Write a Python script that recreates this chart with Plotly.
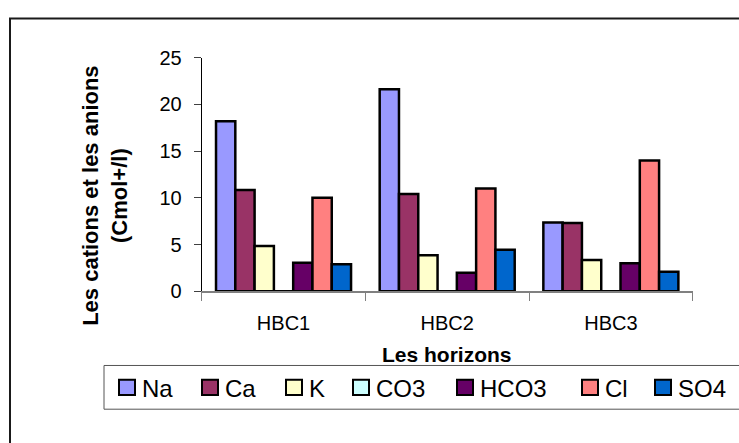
import plotly.graph_objects as go

# --- data -------------------------------------------------------------
horizons = ["HBC1", "HBC2", "HBC3"]
ions = ["Na", "Ca", "K", "CO3", "HCO3", "Cl", "SO4"]
na = [18.2, 21.6, 7.35]
ca = [10.85, 10.4, 7.3]
k = [4.85, 3.85, 3.35]
co3 = [0, 0, 0]
hco3 = [3.05, 2.0, 3.0]
cl = [10.0, 11.0, 14.0]
so4 = [2.9, 4.45, 2.1]
y_ticks = [0, 5, 10, 15, 20, 25]

series = [na, ca, k, co3, hco3, cl, so4]
colors = ["#9999FF", "#993366", "#FFFFCC", "#CCFFFF", "#660066", "#FF8080", "#0066CC"]

# --- layout helpers (pixel -> paper fractions) ------------------------
W, H = 739, 443
FONT = "Liberation Sans, Arial, sans-serif"


def fx(px):
    return px / W


def fy(py):
    return 1 - py / H


plot_left, plot_right, plot_top, plot_bottom = 201.7, 692.7, 49, 295

fig = go.Figure()
for name, vals, col in zip(ions, series, colors):
    fig.add_trace(go.Bar(
        x=horizons, y=vals, name=name, showlegend=False,
        marker=dict(color=col, line=dict(color="black", width=2.5)),
    ))

fig.update_layout(
    width=W, height=H,
    margin=dict(l=0, r=0, t=0, b=0),
    paper_bgcolor="white", plot_bgcolor="white",
    barmode="group", bargap=0.175, bargroupgap=0,
    font=dict(family=FONT, color="black"),
    xaxis=dict(
        domain=[fx(plot_left), fx(plot_right)],
        showline=True, linecolor="#808080", linewidth=1.5,
        ticks="outside", tickson="boundaries", ticklen=8, tickcolor="#808080",
        tickfont=dict(size=20, family=FONT), showgrid=False,
        ticklabelstandoff=13,
    ),
    yaxis=dict(
        domain=[fy(plot_bottom), fy(plot_top)],
        range=[0, 25], tickvals=y_ticks,
        showline=True, linecolor="#000000", linewidth=1,
        ticks="outside", ticklen=7, tickcolor="#404040",
        tickfont=dict(size=20, family=FONT), showgrid=False, zeroline=False,
        ticklabelstandoff=8,
    ),
)

shapes = []
annotations = []

# outer chart frame
shapes.append(dict(type="rect", xref="paper", yref="paper",
                   x0=fx(10), x1=fx(760), y0=fy(8), y1=fy(470),
                   line=dict(color="#1a1a1a", width=2), fillcolor="rgba(0,0,0,0)"))

# axis titles
annotations.append(dict(
    text="<b>Les cations et les anions<br>(Cmol+/l)</b>", textangle=-90,
    xref="paper", yref="paper", x=fx(105.5), y=fy(195),
    xanchor="center", yanchor="middle", showarrow=False,
    font=dict(size=22, family=FONT, color="black"),
))
annotations.append(dict(
    text="<b>Les horizons</b>",
    xref="paper", yref="paper", x=fx(447), y=fy(361),
    xanchor="center", yanchor="middle", showarrow=False,
    font=dict(size=21, family=FONT, color="black"),
))

# legend box with swatches
shapes.append(dict(type="rect", xref="paper", yref="paper",
                   x0=fx(104), x1=fx(760), y0=fy(373), y1=fy(419),
                   line=dict(color="#555555", width=1), fillcolor="white", layer="below"))
legend_x = [119, 202, 286, 353, 457, 582, 655]
sw = 16
for name, col, lx in zip(ions, colors, legend_x):
    shapes.append(dict(type="rect", xref="paper", yref="paper",
                       x0=fx(lx), x1=fx(lx + sw), y0=fy(404), y1=fy(388),
                       line=dict(color="black", width=2), fillcolor=col))
    annotations.append(dict(
        text=name, xref="paper", yref="paper", x=fx(lx + sw + 5), y=fy(397),
        xanchor="left", yanchor="middle", showarrow=False,
        font=dict(size=24, family=FONT, color="black"),
    ))

fig.update_layout(shapes=shapes, annotations=annotations)
fig.write_html("out.html")
